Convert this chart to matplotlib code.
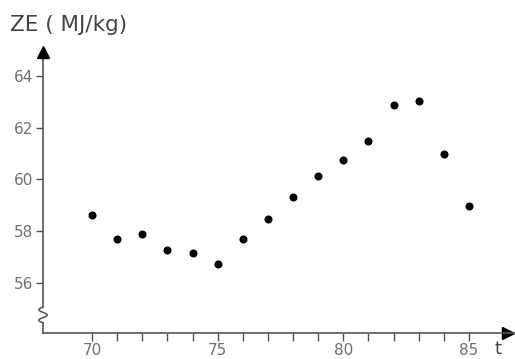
import numpy as np
import matplotlib
matplotlib.use("Agg")
import matplotlib.pyplot as plt

# data
years = [70, 71, 72, 73, 74, 75, 76, 77, 78, 79, 80, 81, 82, 83, 84, 85]
ze = [58.63, 57.70, 57.88, 57.27, 57.16, 56.73, 57.70, 58.47,
      59.32, 60.13, 60.75, 61.47, 62.86, 63.04, 60.98, 58.97]
y_ticks = [56, 58, 60, 62, 64]
x_major = [70, 75, 80, 85]
x_minor = list(range(71, 85))

fig = plt.figure(figsize=(5.15, 3.59), dpi=100)
ax = fig.add_axes([43 / 515, 26 / 359, 472 / 515, 288 / 359])
ax.set_xlim(68.05, 86.83)
ax.set_ylim(54.07, 65.19)

ax.plot(years, ze, "o", color="black", markersize=4.8, zorder=3)

for s in ["top", "right", "left"]:
    ax.spines[s].set_visible(False)
ax.spines["bottom"].set_color("#555555")
ax.spines["bottom"].set_linewidth(1.2)

# y axis with a break (zigzag) near the bottom
axcol = "#555555"
ax.plot([0, 0], [0, 0.035], color=axcol, lw=1.2, transform=ax.transAxes, clip_on=False)
t = np.linspace(0, 1, 60)
zx = -0.009 * np.sin(t * 3 * np.pi)
zy = 0.035 + t * 0.055
ax.plot(zx, zy, color=axcol, lw=1.1, transform=ax.transAxes, clip_on=False)
ax.plot([0, 0], [0.09, 0.97], color=axcol, lw=1.2, transform=ax.transAxes, clip_on=False)
# arrow heads
ax.plot(0, 0.975, "^", color="black", markersize=8, transform=ax.transAxes, clip_on=False)
ax.plot(0.985, 0, ">", color="black", markersize=8, transform=ax.transAxes, clip_on=False)

ax.set_yticks(y_ticks)
ax.set_yticklabels([str(v) for v in y_ticks])
ax.set_xticks(x_major)
ax.set_xticklabels([str(v) for v in x_major])
ax.set_xticks(x_minor, minor=True)
ax.tick_params(axis="y", direction="out", length=5, width=1, color=axcol,
               labelcolor="#707070", labelsize=11, pad=2)
ax.tick_params(axis="x", which="both", direction="out", length=6, width=1,
               color=axcol, labelcolor="#707070", labelsize=11, pad=1)

fig.text(10 / 515, 1 - 25 / 359, "ZE ( MJ/kg)", fontsize=15.5, color="#444444",
         va="center", ha="left")
fig.text(498 / 515, 1 - 349 / 359, "t", fontsize=13, color="#444444",
         va="center", ha="center")

fig.savefig("out.png", dpi=100)
plt.close(fig)
